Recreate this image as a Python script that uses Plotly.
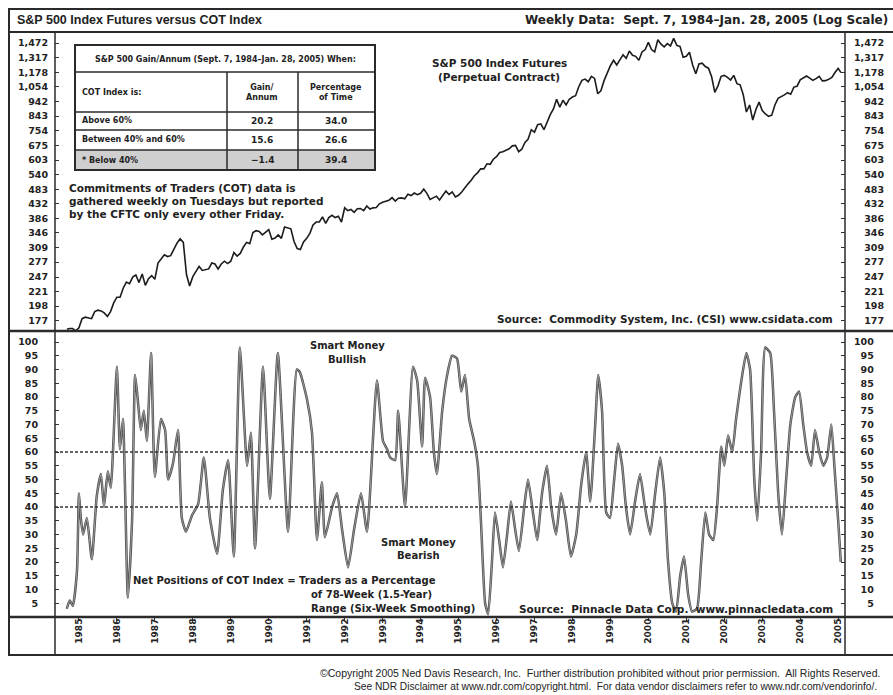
import math
import plotly.graph_objects as go

W, H = 893, 695
OFF = 0  # body margin removed by post_script below

# ---------------- data ----------------
# S&P 500 index futures (perpetual contract), monthly closes
sp_start = 166          # 1984-09-07
sp_1984 = [167, 167, 164, 168]  # Sep..Dec
sp_1985 = [180, 182, 181, 180, 190, 192, 191, 188, 183, 190, 203, 212]
sp_1986 = [212, 227, 238, 235, 247, 251, 237, 253, 232, 244, 250, 243]
sp_1987 = [275, 285, 293, 289, 291, 305, 320, 331, 322, 252, 231, 248]
sp_1988 = [258, 268, 260, 262, 263, 275, 273, 263, 273, 279, 274, 279]
sp_1989 = [298, 290, 296, 311, 322, 319, 347, 352, 350, 341, 347, 355]
sp_1990 = [330, 333, 341, 332, 362, 359, 357, 324, 307, 305, 323, 332]
sp_1991 = [345, 368, 376, 376, 391, 372, 389, 396, 389, 393, 376, 419]
sp_1992 = [410, 414, 405, 416, 417, 410, 425, 415, 419, 420, 432, 437]
sp_1993 = [440, 444, 453, 441, 451, 452, 449, 465, 460, 469, 463, 468]
sp_1994 = [483, 468, 447, 452, 458, 445, 459, 476, 464, 473, 455, 461]
sp_1995 = [473, 489, 503, 517, 535, 547, 564, 564, 586, 584, 607, 619]
sp_1996 = [639, 643, 650, 657, 672, 674, 643, 655, 690, 708, 760, 746]
sp_1997 = [790, 795, 760, 805, 853, 890, 958, 903, 951, 918, 959, 975]
sp_1998 = [985, 1055, 1108, 1118, 1096, 1141, 1124, 1000, 1023, 1105, 1170, 1238]
sp_1999 = [1290, 1245, 1295, 1345, 1310, 1385, 1340, 1330, 1290, 1375, 1400, 1480]
sp_2000 = [1400, 1375, 1510, 1460, 1430, 1465, 1440, 1525, 1445, 1435, 1320, 1330]
sp_2001 = [1372, 1245, 1165, 1255, 1262, 1230, 1215, 1138, 1010, 1062, 1142, 1150]
sp_2002 = [1133, 1110, 1150, 1080, 1070, 992, 870, 918, 818, 887, 938, 880]
sp_2003 = [857, 842, 849, 918, 965, 975, 991, 1008, 996, 1052, 1059, 1112]
sp_2004 = [1132, 1145, 1127, 1108, 1122, 1142, 1103, 1105, 1116, 1132, 1175, 1213]
sp_end = 1175           # 2005-01-28

# COT Index (six-week smoothing), dates in decimal years
cot_dates = [1984.68, 1984.76, 1984.84, 1984.95, 1985.00, 1985.05, 1985.11, 1985.21, 1985.34, 1985.47,
             1985.58, 1985.66, 1985.76, 1985.84, 1986.00, 1986.08, 1986.16, 1986.29, 1986.40, 1986.48,
             1986.55, 1986.63, 1986.71, 1986.79, 1986.90, 1987.00, 1987.16, 1987.27, 1987.35, 1987.48,
             1987.61, 1987.71, 1987.82, 1987.98, 1988.14, 1988.29, 1988.45, 1988.64, 1988.79, 1988.93,
             1989.08, 1989.24, 1989.43, 1989.53, 1989.64, 1989.85, 1990.03, 1990.24, 1990.51, 1990.74,
             1990.82, 1991.01, 1991.14, 1991.27, 1991.40, 1991.48, 1991.67, 1991.80, 1991.93, 1992.09,
             1992.25, 1992.43, 1992.59, 1992.85, 1993.01, 1993.12, 1993.20, 1993.33, 1993.41, 1993.59,
             1993.80, 1993.91, 1994.04, 1994.12, 1994.25, 1994.35, 1994.43, 1994.57, 1994.70, 1994.83,
             1994.96, 1995.07, 1995.17, 1995.28, 1995.41, 1995.51, 1995.59, 1995.70, 1995.78, 1995.88,
             1995.96, 1996.07, 1996.17, 1996.28, 1996.38, 1996.49, 1996.59, 1996.73, 1996.83, 1996.96,
             1997.07, 1997.20, 1997.33, 1997.44, 1997.57, 1997.70, 1997.83, 1997.96, 1998.10, 1998.23,
             1998.36, 1998.47, 1998.60, 1998.68, 1998.78, 1998.89, 1998.99, 1999.10, 1999.20, 1999.31,
             1999.41, 1999.52, 1999.65, 1999.78, 1999.91, 2000.05, 2000.18, 2000.31, 2000.42, 2000.52,
             2000.63, 2000.73, 2000.84, 2000.94, 2001.05, 2001.15, 2001.28, 2001.39, 2001.50, 2001.60,
             2001.71, 2001.81, 2001.92, 2002.00, 2002.10, 2002.21, 2002.31, 2002.44, 2002.58, 2002.68,
             2002.79, 2002.87, 2002.97, 2003.08, 2003.21, 2003.31, 2003.42, 2003.52, 2003.63, 2003.74,
             2003.87, 2003.97, 2004.08, 2004.18, 2004.29, 2004.39, 2004.50, 2004.61, 2004.71, 2004.82,
             2004.90, 2005.00, 2005.07]
cot_values = [3, 6, 4, 17, 45, 36, 30, 36, 21, 44,
              52, 40, 53, 47, 91, 61, 72, 7, 35, 88,
              79, 68, 75, 64, 96, 51, 72, 68, 50, 56,
              68, 36, 31, 37, 41, 58, 36, 23, 46, 57,
              22, 98, 55, 67, 25, 91, 43, 96, 31, 90,
              89, 79, 67, 28, 49, 29, 40, 45, 32, 18,
              32, 45, 31, 86, 64, 61, 58, 57, 75, 40,
              91, 86, 62, 87, 80, 60, 52, 75, 88, 95,
              94, 82, 88, 72, 64, 55, 35, 5, 1, 20,
              38, 28, 18, 30, 42, 32, 24, 40, 50, 38,
              28, 45, 55, 40, 30, 45, 35, 22, 30, 48,
              60, 42, 70, 88, 75, 38, 36, 50, 63, 55,
              40, 30, 42, 52, 40, 30, 45, 58, 45, 20,
              5, 2, 15, 22, 8, 2, 3, 20, 38, 30,
              28, 40, 62, 55, 66, 60, 72, 85, 96, 90,
              50, 35, 60, 98, 96, 75, 45, 30, 50, 70,
              80, 82, 70, 60, 55, 68, 60, 55, 58, 70,
              55, 35, 20]

cot_levels = [60, 40]

price_ticks = [177, 198, 221, 247, 277, 309, 346, 386, 432, 483, 540, 603,
               675, 754, 843, 942, 1054, 1178, 1317, 1472]
cot_ticks = [5, 10, 15, 20, 25, 30, 35, 40, 45, 50, 55, 60, 65, 70, 75, 80, 85, 90, 95, 100]
years = list(range(1985, 2006))

table_title = "S&P 500 Gain/Annum (Sept. 7, 1984\u2013Jan. 28, 2005) When:"
table_rows = ["Above 60%", "Between 40% and 60%", "* Below 40%"]
table_gain = ["20.2", "15.6", "\u22121.4"]
table_pct = ["34.0", "26.6", "39.4"]

# ---------------- build series ----------------
sp_years_blocks = [(1984, sp_1984, 9)] + [(y, v, 1) for y, v in [
    (1985, sp_1985), (1986, sp_1986), (1987, sp_1987), (1988, sp_1988), (1989, sp_1989),
    (1990, sp_1990), (1991, sp_1991), (1992, sp_1992), (1993, sp_1993), (1994, sp_1994),
    (1995, sp_1995), (1996, sp_1996), (1997, sp_1997), (1998, sp_1998), (1999, sp_1999),
    (2000, sp_2000), (2001, sp_2001), (2002, sp_2002), (2003, sp_2003), (2004, sp_2004)]]
sp_x = [1984 + 250 / 365.25]
sp_y = [sp_start]
for yr, vals, m0 in sp_years_blocks:
    for i, v in enumerate(vals):
        sp_x.append(yr + (m0 + i) / 12.0)
        sp_y.append(v)
sp_x.append(2005 + 27 / 365.25)
sp_y.append(sp_end)

FW, FH = W - OFF, H - OFF


def px(x):
    return (x - OFF) / FW


def py(y):
    return 1 - (y - OFF) / FH


def rpad(labels):
    # right-align labels on the right-hand axes with figure / punctuation spaces
    longest = max(labels, key=len)
    out = []
    for s in labels:
        digits_missing = sum(c.isdigit() for c in longest) - sum(c.isdigit() for c in s)
        commas_missing = longest.count(",") - s.count(",")
        out.append("\u2007" * digits_missing + "\u2008" * commas_missing + s)
    return out


FONT = "DejaVu Sans, Verdana, sans-serif"
FONT_N = "Liberation Sans, Arial, sans-serif"
INK = "#222222"
XR = [1984.37, 2005.18]
YR_TOP = [2.2144, 3.2044]
YR_BOT = [0, 104]

price_text = [f"{v:,}" for v in price_ticks]
cot_text = [str(v) for v in cot_ticks]

fig = go.Figure()
fig.add_trace(go.Scatter(x=sp_x, y=sp_y, mode="lines", xaxis="x", yaxis="y",
                         line=dict(color="#1c1c1c", width=1.6), hoverinfo="skip"))
fig.add_trace(go.Scatter(x=cot_dates, y=cot_values, mode="lines", xaxis="x2", yaxis="y2",
                         line=dict(color="#505050", width=2.5, shape="spline", smoothing=0.5),
                         hoverinfo="skip"))
fig.add_trace(go.Scatter(x=cot_dates, y=cot_values, mode="lines", xaxis="x2", yaxis="y2",
                         line=dict(color="#9a9a9a", width=1.0, shape="spline", smoothing=0.5),
                         hoverinfo="skip"))
for lv in cot_levels:
    fig.add_trace(go.Scatter(x=XR, y=[lv, lv], mode="lines", xaxis="x2", yaxis="y2",
                             line=dict(color="#333333", width=1.3, dash="3px,2px"),
                             hoverinfo="skip"))
# invisible carriers so the right-hand axes get drawn
fig.add_trace(go.Scatter(x=[sp_x[0]], y=[sp_y[0]], mode="markers", xaxis="x", yaxis="y3",
                         marker=dict(opacity=0), hoverinfo="skip"))
fig.add_trace(go.Scatter(x=[cot_dates[0]], y=[cot_values[0]], mode="markers", xaxis="x2",
                         yaxis="y4", marker=dict(opacity=0), hoverinfo="skip"))

tickfont = dict(family=FONT, size=9.5, color=INK, weight="bold")
common_y = dict(showgrid=False, zeroline=False, showline=False, ticks="inside",
                ticklen=4, tickcolor="#333333", tickwidth=1, tickfont=tickfont)

fig.update_layout(
    width=FW, height=FH, margin=dict(l=0, r=0, t=0, b=0),
    paper_bgcolor="white", plot_bgcolor="white", showlegend=False,
    xaxis=dict(domain=[px(55), px(845)], range=XR, anchor="y", showgrid=False,
               zeroline=False, showticklabels=False, ticks=""),
    yaxis=dict(domain=[py(331), py(32)], type="log", range=YR_TOP, anchor="x",
               tickvals=price_ticks, ticktext=price_text, ticklabelstandoff=6, **common_y),
    yaxis3=dict(domain=[py(331), py(32)], type="log", range=YR_TOP, anchor="x",
                overlaying="y", side="right", ticklabelstandoff=8,
                tickvals=price_ticks, ticktext=rpad(price_text), **common_y),
    xaxis2=dict(domain=[px(55), px(845)], range=XR, anchor="y2", showgrid=False,
                zeroline=False, tickvals=years, ticktext=[str(y) for y in years],
                tickangle=-90, ticks="outside", ticklen=3, tickcolor="#333333",
                ticklabelstandoff=-6,
                tickfont=dict(family=FONT, size=9, color=INK, weight="bold")),
    yaxis2=dict(domain=[py(617), py(331)], range=YR_BOT, anchor="x2", ticklabelstandoff=16,
                tickvals=cot_ticks, ticktext=cot_text, **common_y),
    yaxis4=dict(domain=[py(617), py(331)], range=YR_BOT, anchor="x2",
                overlaying="y2", side="right", ticklabelstandoff=8,
                tickvals=cot_ticks, ticktext=rpad(cot_text), **common_y),
)

shapes = []
LC = "#2a2a2a"


def hline(y, x0=8, x1=900, w=2):
    shapes.append(dict(type="line", xref="paper", yref="paper", x0=px(x0), x1=px(x1),
                       y0=py(y), y1=py(y), line=dict(color=LC, width=w)))


def vline(x, y0, y1, w=2):
    shapes.append(dict(type="line", xref="paper", yref="paper", x0=px(x), x1=px(x),
                       y0=py(y0), y1=py(y1), line=dict(color=LC, width=w)))


hline(9)
hline(32)
hline(331, w=2.5)
hline(617, w=2.5)
hline(655, w=2)
vline(9, 9, 655)
vline(55, 32, 655, w=1.5)
vline(845, 32, 655, w=1.5)

# table
TX0, TX1, TY0, TY1 = 75, 375, 45, 170
shapes.append(dict(type="rect", xref="paper", yref="paper", x0=px(TX0), x1=px(TX1),
                   y0=py(150), y1=py(TY1), fillcolor="#cfcfcf", line=dict(width=0)))
shapes.append(dict(type="rect", xref="paper", yref="paper", x0=px(TX0), x1=px(TX1),
                   y0=py(TY1), y1=py(TY0), line=dict(color=LC, width=2)))
for ry in [72, 112, 130, 150]:
    hline(ry, TX0, TX1, w=1.5)
for cx in [227, 298]:
    vline(cx, 72, TY1, w=1.5)

annotations = []


def text(x, y, s, size=10.5, anchor="left", bold=True, color=INK, family=FONT):
    annotations.append(dict(xref="paper", yref="paper", x=px(x), y=py(y), text=s,
                            showarrow=False, xanchor=anchor, yanchor="middle",
                            font=dict(family=family, size=size, color=color,
                                      weight="bold" if bold else "normal")))


text(15, 20, "S&P 500 Index Futures versus COT Index", size=12.5, family=FONT_N)
text(890, 20, "Weekly Data:  Sept. 7, 1984\u2013Jan. 28, 2005 (Log Scale)", size=12, anchor="right")

text(225, 59, table_title, size=8, anchor="center")
text(80, 92, "COT Index is:", size=8)
text(262, 92, "Gain/<br>Annum", size=8, anchor="center")
text(336, 92, "Percentage<br>of Time", size=8, anchor="center")
for i, (lab, g, p) in enumerate(zip(table_rows, table_gain, table_pct)):
    yy = [121, 140, 160][i]
    text(80, yy, lab, size=8)
    text(262, yy, g, size=9, anchor="center")
    text(336, yy, p, size=9, anchor="center")

text(499, 63, "S&P 500 Index Futures", size=10.5, anchor="center")
text(499, 77, "(Perpetual Contract)", size=10.5, anchor="center")
text(67, 188, "Commitments of Traders (COT) data is", size=10.5)
text(67, 201, "gathered weekly on Tuesdays but reported", size=10.5)
text(67, 214, "by the CFTC only every other Friday.", size=10.5)
text(835, 319, "Source:  Commodity System, Inc. (CSI) www.csidata.com", size=10.5, anchor="right")

text(347, 345, "Smart Money", size=10, anchor="center")
text(347, 359, "Bullish", size=10, anchor="center")
text(418, 542, "Smart Money", size=10, anchor="center")
text(418, 555, "Bearish", size=10, anchor="center")
text(131, 580, "Net Positions of COT Index = Traders as a Percentage", size=10)
text(309, 594, "of 78-Week (1.5-Year)", size=10)
text(309, 608, "Range (Six-Week Smoothing)", size=10)
text(835, 609, "Source:  Pinnacle Data Corp.  www.pinnacledata.com", size=10.5, anchor="right")

text(318, 673, "\u00a9Copyright 2005 Ned Davis Research, Inc.  Further distribution prohibited without prior permission.  All Rights Reserved.",
     size=10.5, bold=False, family=FONT_N)
text(352, 686, "See NDR Disclaimer at www.ndr.com/copyright.html.  For data vendor disclaimers refer to www.ndr.com/vendorinfo/.",
     size=10.2, bold=False, family=FONT_N)

fig.update_layout(shapes=shapes, annotations=annotations)
fig.write_html("out.html", config={"displayModeBar": False},
               post_script="document.body.style.margin='0';document.body.style.overflow='hidden';")
